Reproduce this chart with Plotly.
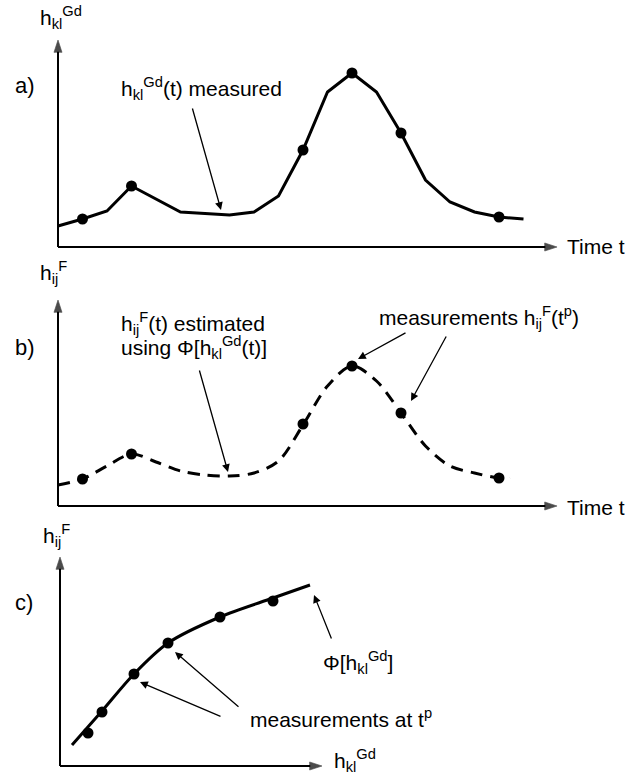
import plotly.graph_objects as go

W, H = 625, 776

# ---------------- data ----------------
# a) measured h_kl^Gd(t): piecewise linear record
a_t = [0, 1, 2, 3, 5, 7, 8, 9, 10, 11, 12, 13, 14, 15, 16, 17, 18, 19]
a_h = [21, 28, 36, 61, 35, 32, 35, 51, 97, 155, 174, 155, 114, 67, 45, 35, 30, 28]
a_meas_t = [1, 3, 10, 12, 14, 18]
a_meas_h = [28, 61, 97, 174, 114, 30]

# b) estimated h_ij^F(t) (smooth dashed) and measurements h_ij^F(t^p)
b_t = [0, 1, 2, 3, 4, 5, 6, 7, 8, 9, 10, 11, 12, 13, 14, 15, 16, 17, 18, 18.45]
b_h = [21, 27, 40, 52, 44, 35, 31, 30, 33, 45, 81, 120, 140, 125, 93, 60, 40, 33, 28, 28]
b_meas_t = [1, 3, 10, 12, 14, 18]
b_meas_h = [27, 52, 82, 140, 93, 28]

# c) transfer function Phi[h_kl^Gd] and measurements at t^p
c_x = [12, 42, 74, 108, 160, 213, 250]
c_y = [21, 55, 92, 123, 149, 168, 181]
c_meas_x = [28, 42, 74, 108, 160, 213]
c_meas_y = [33, 54, 92, 123, 149, 165]

# axis extents (data units)
a_axis_end = [20.37, 207]
b_axis_end = [20.37, 206]
c_axis_end = [262, 209]

# ---------------- layout helpers ----------------
panels = {
    1: dict(ox=58, oy=247, sx=24.5, sy=1.0, bx=(40, 600), by=(30, 262)),
    2: dict(ox=58, oy=506, sx=24.5, sy=1.0, bx=(40, 600), by=(290, 522)),
    3: dict(ox=60, oy=766, sx=1.0, sy=1.0, bx=(40, 600), by=(545, 776)),
}

FONT = "Arial, 'Liberation Sans', sans-serif"
INK = "#000000"

fig = go.Figure()

def ax_names(i):
    return ("x" if i == 1 else f"x{i}", "y" if i == 1 else f"y{i}")

def add_axes_arrows(i, end):
    xa, ya = ax_names(i)
    for xs, ys in (([0, end[0]], [0, 0]), ([0, 0], [0, end[1]])):
        fig.add_trace(go.Scatter(
            x=xs, y=ys, xaxis=xa, yaxis=ya, mode="lines+markers",
            line=dict(color=INK, width=2),
            marker=dict(symbol="arrow", size=[0, 13], angleref="previous", color=INK,
                        line=dict(width=0.6, color=INK)),
            hoverinfo="skip", showlegend=False, cliponaxis=False))

def add_curve(i, xs, ys, dash=None, shape="linear"):
    xa, ya = ax_names(i)
    fig.add_trace(go.Scatter(
        x=xs, y=ys, xaxis=xa, yaxis=ya, mode="lines",
        line=dict(color=INK, width=3, dash=dash, shape=shape, smoothing=0.9),
        hoverinfo="skip", showlegend=False))

def add_dots(i, xs, ys):
    xa, ya = ax_names(i)
    fig.add_trace(go.Scatter(
        x=xs, y=ys, xaxis=xa, yaxis=ya, mode="markers",
        marker=dict(color=INK, size=11),
        hoverinfo="skip", showlegend=False, cliponaxis=False))

# panel a
add_axes_arrows(1, a_axis_end)
add_curve(1, a_t, a_h)
add_dots(1, a_meas_t, a_meas_h)
# panel b
add_axes_arrows(2, b_axis_end)
add_curve(2, b_t, b_h, dash="12px,8px", shape="spline")
add_dots(2, b_meas_t, b_meas_h)
# panel c
add_axes_arrows(3, c_axis_end)
add_curve(3, c_x, c_y, shape="spline")
add_dots(3, c_meas_x, c_meas_y)

layout = {}
for i, p in panels.items():
    xr = [(p["bx"][0] - p["ox"]) / p["sx"], (p["bx"][1] - p["ox"]) / p["sx"]]
    yr = [(p["oy"] - p["by"][1]) / p["sy"], (p["oy"] - p["by"][0]) / p["sy"]]
    xk = "xaxis" if i == 1 else f"xaxis{i}"
    yk = "yaxis" if i == 1 else f"yaxis{i}"
    xa, ya = ax_names(i)
    layout[xk] = dict(domain=[p["bx"][0] / W, p["bx"][1] / W], range=xr, visible=False,
                      anchor=ya, fixedrange=True)
    layout[yk] = dict(domain=[1 - p["by"][1] / H, 1 - p["by"][0] / H], range=yr, visible=False,
                      anchor=xa, fixedrange=True)

def P(px, py):
    return px / W, 1 - py / H

annotations = []

def text(px, py, s, size=21, xanchor="left"):
    x, y = P(px, py)
    annotations.append(dict(x=x, y=y, xref="paper", yref="paper", text=s, showarrow=False,
                            xanchor=xanchor, yanchor="middle",
                            font=dict(family=FONT, size=size, color=INK)))

def callout(tail, head):
    x, y = P(*head)
    annotations.append(dict(x=x, y=y, xref="paper", yref="paper", text="",
                            ax=tail[0] - head[0], ay=tail[1] - head[1],
                            axref="pixel", ayref="pixel", showarrow=True,
                            arrowhead=2, arrowsize=1.2, arrowwidth=1.3, arrowcolor=INK))

HKL = "h<sub>kl</sub><sup>Gd</sup>"
HIJ = "h<sub>ij</sub><sup>F</sup>"

# panel a texts
text(38, 17, HKL)
text(13, 85, "a)", size=22)
text(119, 88, HKL + "(t) measured")
text(565, 246, "Time t")
callout((192, 107), (221, 210))

# panel b texts
text(38, 272, HIJ)
text(13, 347, "b)", size=22)
text(119, 323, HIJ + "(t) estimated")
text(119, 347, "using Φ[" + HKL + "(t)]")
text(377, 317, "measurements " + HIJ + "(t<sup>p</sup>)")
text(565, 507, "Time t")
callout((199, 369), (228, 472))
callout((407, 332), (358, 359))
callout((447, 335), (411, 401))

# panel c texts
text(41, 535, HIJ)
text(13, 602, "c)", size=22)
text(321, 662, "Φ[" + HKL + "]")
text(248, 718, "measurements at t<sup>p</sup>")
text(332, 760, HKL)
callout((222, 717), (140, 682))
callout((240, 708), (175, 652))
callout((332, 640), (314, 595))

fig.update_layout(
    width=W, height=H, margin=dict(l=0, r=0, t=0, b=0),
    paper_bgcolor="white", plot_bgcolor="white",
    showlegend=False, annotations=annotations, **layout)

fig.write_html("out.html", config={"displayModeBar": False})
